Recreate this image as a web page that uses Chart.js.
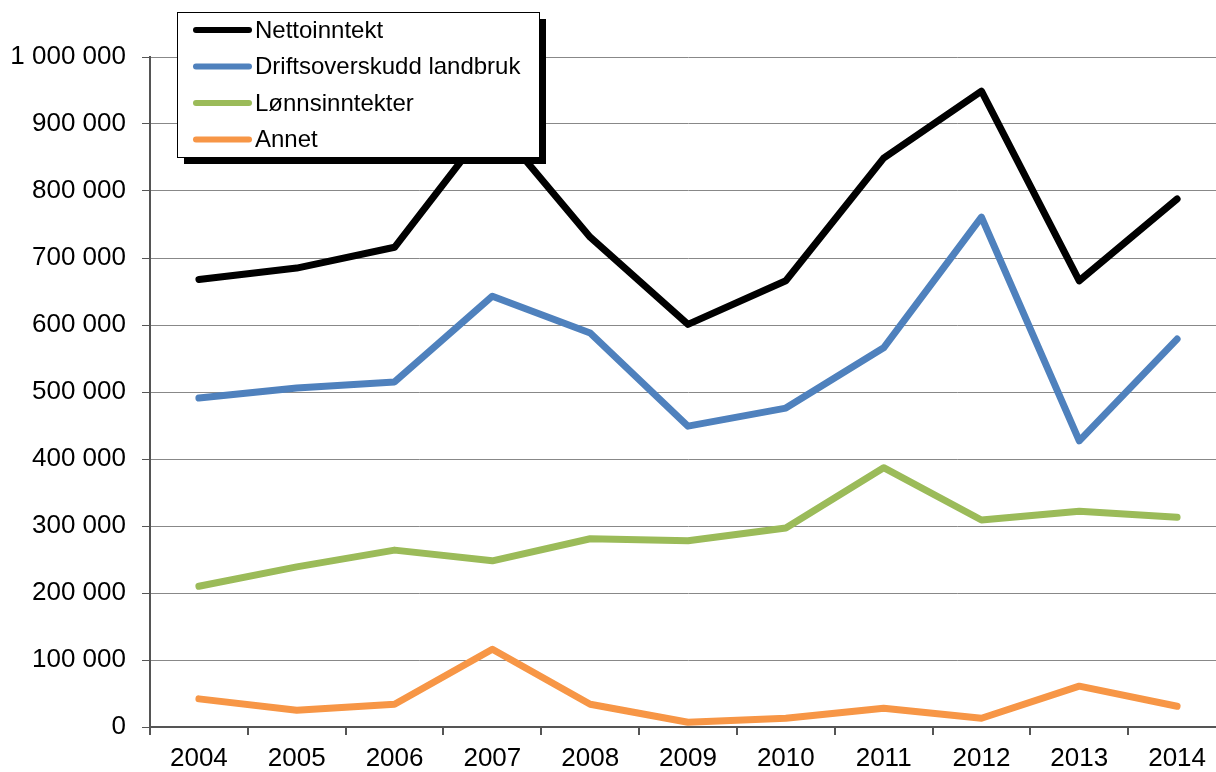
<!DOCTYPE html>
<html lang="no">
<head>
  <meta charset="UTF-8">
  <title>Inntekter</title>
  <script src="https://cdn.jsdelivr.net/npm/chart.js"></script>
  <style>
    html, body { margin: 0; padding: 0; background: #fff; overflow: hidden; }
    #wrap { width: 1230px; height: 772px; }
  </style>
</head>
<body>
  <div id="wrap"><canvas id="chart" width="1230" height="772"></canvas></div>
  <script>
    const years = ["2004", "2005", "2006", "2007", "2008", "2009", "2010", "2011", "2012", "2013", "2014"];
    const nettoinntekt = [668000, 685000, 716000, 905000, 731000, 601000, 666000, 849000, 949000, 666000, 788000];
    const driftsoverskudd = [491000, 506000, 515000, 643000, 588000, 449000, 476000, 566000, 761000, 427000, 579000];
    const lonnsinntekter = [210000, 239000, 264000, 248000, 281000, 278000, 297000, 387000, 309000, 322000, 313000];
    const annet = [42000, 25000, 34000, 116000, 34000, 7000, 13000, 28000, 13000, 61000, 31000];

    const fmt = v => String(v).replace(/\B(?=(\d{3})+(?!\d))/g, " ");

    function series(label, data, color) {
      return {
        label, data,
        borderColor: color, backgroundColor: color,
        borderWidth: 7, pointRadius: 0, tension: 0,
        borderCapStyle: "round", borderJoinStyle: "round"
      };
    }

    // legend drawn by hand, on top of the plot like the original
    const boxLegend = {
      id: "boxLegend",
      afterDraw(chart) {
        const ctx = chart.ctx;
        const x = 177, y = 12, w = 362, h = 145;
        ctx.save();
        ctx.fillStyle = "#000";
        ctx.fillRect(x + 7, y + 7, w, h);
        ctx.fillStyle = "#fff";
        ctx.fillRect(x, y, w, h);
        ctx.strokeStyle = "#000";
        ctx.lineWidth = 1;
        ctx.strokeRect(x + 0.5, y + 0.5, w, h);
        ctx.font = "24px Arial, 'Liberation Sans'";
        ctx.textBaseline = "middle";
        chart.data.datasets.forEach((ds, i) => {
          const ly = 30 + i * 36.5;
          ctx.strokeStyle = ds.borderColor;
          ctx.lineWidth = 6;
          ctx.lineCap = "round";
          ctx.beginPath();
          ctx.moveTo(196, ly);
          ctx.lineTo(249, ly);
          ctx.stroke();
          ctx.fillStyle = "#000";
          ctx.fillText(ds.label, 255, ly + 1);
        });
        ctx.restore();
      }
    };

    new Chart(document.getElementById("chart"), {
      type: "line",
      data: {
        labels: years,
        datasets: [
          series("Nettoinntekt", nettoinntekt, "#000000"),
          series("Driftsoverskudd landbruk", driftsoverskudd, "#4F81BD"),
          series("Lønnsinntekter", lonnsinntekter, "#9BBB59"),
          series("Annet", annet, "#F79646")
        ]
      },
      options: {
        responsive: false,
        animation: false,
        layout: { padding: { top: 57, right: 4, left: 0, bottom: 0 } },
        plugins: { legend: { display: false }, tooltip: { enabled: false } },
        scales: {
          x: {
            offset: true,
            afterFit: s => { s.height = 45; },
            grid: { offset: true, drawOnChartArea: false, tickLength: 8, tickColor: "#555", lineWidth: 2 },
            border: { color: "#555", width: 2 },
            ticks: { color: "#000", padding: 8, font: { size: 26, family: "Arial, 'Liberation Sans'" }, maxRotation: 0 }
          },
          y: {
            min: 0, max: 1000000,
            afterFit: s => { s.width = 150; },
            grid: { color: "#888", lineWidth: 1, tickLength: 8, tickColor: "#555" },
            border: { color: "#555", width: 2 },
            ticks: {
              stepSize: 100000, color: "#000", padding: 16,
              font: { size: 26, family: "Arial, 'Liberation Sans'" },
              callback: v => fmt(v)
            }
          }
        }
      },
      plugins: [boxLegend]
    });
  </script>
</body>
</html>
